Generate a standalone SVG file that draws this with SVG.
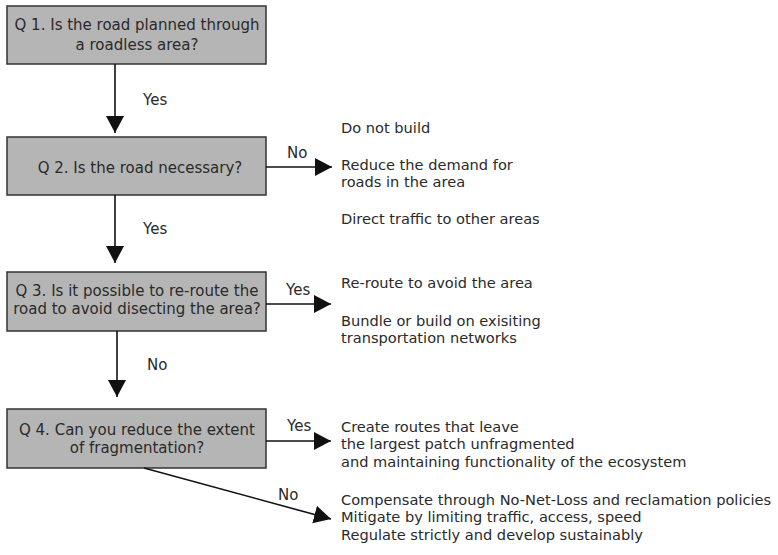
<svg xmlns="http://www.w3.org/2000/svg" width="778" height="555" viewBox="0 0 778 555">
<defs>
<marker id="ah" markerUnits="userSpaceOnUse" markerWidth="20" markerHeight="20" refX="17" refY="9" orient="auto">
<path d="M0,0 L17,9 L0,18 Z" fill="#111"/>
</marker>
<style>
.box{fill:#b5b5b5;stroke:#333;stroke-width:1.5}
.t{font-family:"DejaVu Sans","Verdana",sans-serif;font-size:14.6px;fill:#2a2a2a}
.b{font-size:15px;text-anchor:middle}
.l{font-size:15px}
.ln{stroke:#111;stroke-width:1.6;fill:none;marker-end:url(#ah)}
</style>
</defs>
<rect width="778" height="555" fill="#fff"/>
<g id="q1"><rect class="box" x="7" y="6" width="259" height="58"/>
<text class="t b" x="137" y="30">Q 1. Is the road planned through</text>
<text class="t b" x="137" y="50">a roadless area?</text></g>
<g id="q2"><rect class="box" x="7" y="137" width="259" height="58"/>
<text class="t b" x="140" y="173">Q 2. Is the road necessary?</text></g>
<g id="q3"><rect class="box" x="7" y="272" width="259" height="59"/>
<text class="t b" x="137" y="296">Q 3. Is it possible to re-route the</text>
<text class="t b" x="137" y="314">road to avoid disecting the area?</text></g>
<g id="q4"><rect class="box" x="7" y="409" width="259" height="59"/>
<text class="t b" x="137" y="435">Q 4. Can you reduce the extent</text>
<text class="t b" x="137" y="453">of fragmentation?</text></g>
<g id="a2"><text class="t" x="341" y="133">Do not build</text>
<text class="t" x="341" y="170">Reduce the demand for</text>
<text class="t" x="341" y="187">roads in the area</text>
<text class="t" x="341" y="224">Direct traffic to other areas</text></g>
<g id="a3"><text class="t" x="341" y="288">Re-route to avoid the area</text>
<text class="t" x="341" y="326">Bundle or build on exisiting</text>
<text class="t" x="341" y="343">transportation networks</text></g>
<g id="a4y"><text class="t" x="341" y="432">Create routes that leave</text>
<text class="t" x="341" y="449">the largest patch unfragmented</text>
<text class="t" x="341" y="467">and maintaining functionality of the ecosystem</text></g>
<g id="a4n"><text class="t" x="341" y="505">Compensate through No-Net-Loss and reclamation policies</text>
<text class="t" x="341" y="522">Mitigate by limiting traffic, access, speed</text>
<text class="t" x="341" y="540">Regulate strictly and develop sustainably</text></g>
<g id="connectors">
<line class="ln" x1="115" y1="64" x2="115" y2="133"/>
<line class="ln" x1="115" y1="195" x2="115" y2="263"/>
<line class="ln" x1="117" y1="331" x2="117" y2="397"/>
<line class="ln" x1="266" y1="167" x2="332" y2="167"/>
<line class="ln" x1="266" y1="304" x2="331" y2="304"/>
<line class="ln" x1="266" y1="441" x2="331" y2="441"/>
<line class="ln" x1="144" y1="468" x2="331" y2="519"/>
<text class="t l" x="143" y="105">Yes</text>
<text class="t l" x="143" y="234">Yes</text>
<text class="t l" x="147" y="370">No</text>
<text class="t l" x="287" y="158">No</text>
<text class="t l" x="286" y="295">Yes</text>
<text class="t l" x="287" y="431">Yes</text>
<text class="t l" x="278" y="500">No</text>
</g>
</svg>
